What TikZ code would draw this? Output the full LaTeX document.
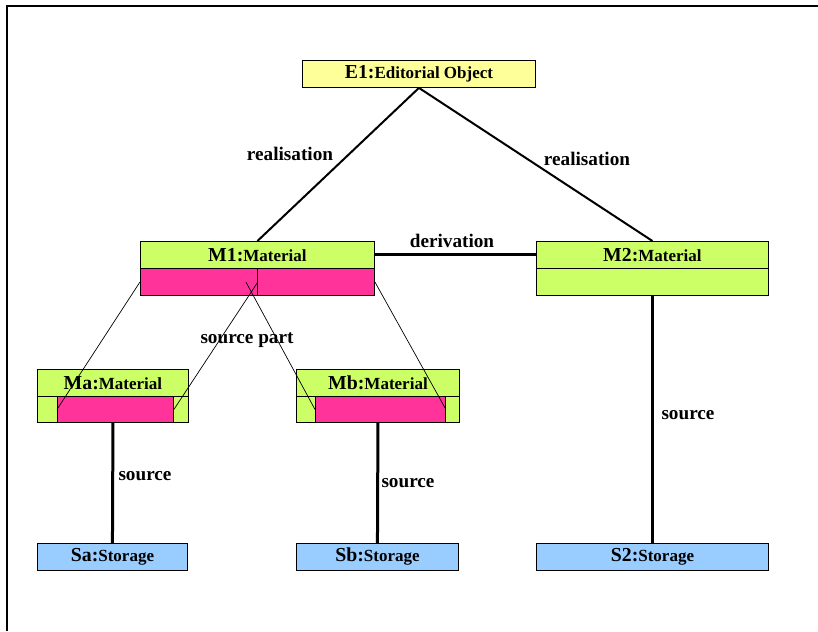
\documentclass[tikz,border=0pt]{standalone}
\usepackage{fontspec}
\setmainfont{Liberation Serif}
\usetikzlibrary{calc}
\definecolor{objyellow}{RGB}{255,255,153}
\definecolor{matgreen}{RGB}{204,255,102}
\definecolor{partpink}{RGB}{255,51,153}
\definecolor{storblue}{RGB}{153,204,255}
% object title: larger identifier followed by smaller class name
\newcommand{\objtitle}[2]{\raisebox{-1.5pt}{{\fontsize{19.8}{22}\selectfont\bfseries #1}{\fontsize{17}{20}\selectfont\bfseries #2}}}
\begin{document}
\begin{tikzpicture}[x=1pt,y=-1pt,
  box/.style={draw=black, line width=0.9pt, inner sep=0pt, anchor=north west},
  lbl/.style={font=\fontsize{19.2}{22}\selectfont\bfseries, inner sep=1pt, yshift=-1.5pt},
  link/.style={line width=2pt},
  heavy/.style={line width=3pt},
  thin/.style={line width=0.7pt}]
\useasboundingbox (0,0) rectangle (818,631);
% outer frame
\draw[line width=2pt] (7,631) -- (7,6) -- (818,6);

% editorial object
\node[box, fill=objyellow, minimum width=233pt, minimum height=27pt] (E1) at (302,60)
  {\objtitle{E1:}{Editorial Object}};

% M1 with two pink parts
\node[box, fill=matgreen, minimum width=234pt, minimum height=27pt] (M1) at (140,241)
  {\objtitle{M1:}{Material}};
\node[box, fill=partpink, minimum width=117pt, minimum height=27pt] (M1l) at (140,268) {};
\node[box, fill=partpink, minimum width=117pt, minimum height=27pt] (M1r) at (257,268) {};

% M2
\node[box, fill=matgreen, minimum width=232pt, minimum height=27pt] (M2) at (536,241)
  {\objtitle{M2:}{Material}};
\node[box, fill=matgreen, minimum width=232pt, minimum height=27pt] (M2l) at (536,268) {};

% Ma
\node[box, fill=matgreen, minimum width=151pt, minimum height=27pt] (Ma) at (37,369)
  {\objtitle{Ma:}{Material}};
\node[box, fill=matgreen, minimum width=151pt, minimum height=26pt] (Mal) at (37,396) {};
\node[box, fill=partpink, minimum width=116pt, minimum height=26pt] (Map) at (57,396) {};

% Mb
\node[box, fill=matgreen, minimum width=163pt, minimum height=27pt] (Mb) at (296,369)
  {\objtitle{Mb:}{Material}};
\node[box, fill=matgreen, minimum width=163pt, minimum height=26pt] (Mbl) at (296,396) {};
\node[box, fill=partpink, minimum width=130pt, minimum height=26pt] (Mbp) at (315,396) {};

% storage
\node[box, fill=storblue, minimum width=150pt, minimum height=27pt] (Sa) at (37,543)
  {\objtitle{Sa:}{Storage}};
\node[box, fill=storblue, minimum width=162pt, minimum height=27pt] (Sb) at (296,543)
  {\objtitle{Sb:}{Storage}};
\node[box, fill=storblue, minimum width=232pt, minimum height=27pt] (S2) at (536,543)
  {\objtitle{S2:}{Storage}};

% realisation links
\draw[link] (E1.south) -- (M1.north);
\draw[link] (E1.south) -- (M2.north);
\node[lbl] (r1) at (290,152) {realisation};
\node[lbl] (r2) at (587,157) {realisation};

% derivation
\draw[heavy] (M1.east) -- (M2.west);
\node[lbl] (der) at (452,239) {derivation};

% source part links
\coordinate (sp) at ($(M1l.east)+(-12,0)$);
\draw[thin] (M1l.west) -- (Map.west);
\draw[thin] (M1l.east) -- (Map.east);
\draw[thin] (sp) -- (Mbp.west);
\draw[thin] (M1r.east) -- (Mbp.east);
\node[lbl] (spl) at (247,339) {source part};

% source links
\draw[heavy] (Mal.south) -- (Sa.north);
\draw[heavy] (Mbl.south) -- (Sb.north);
\draw[heavy] (M2l.south) -- (S2.north);
\node[lbl] (sa) at (145,475) {source};
\node[lbl] (sb) at (408,482) {source};
\node[lbl] (s2) at (688,414) {source};
\end{tikzpicture}
\end{document}
